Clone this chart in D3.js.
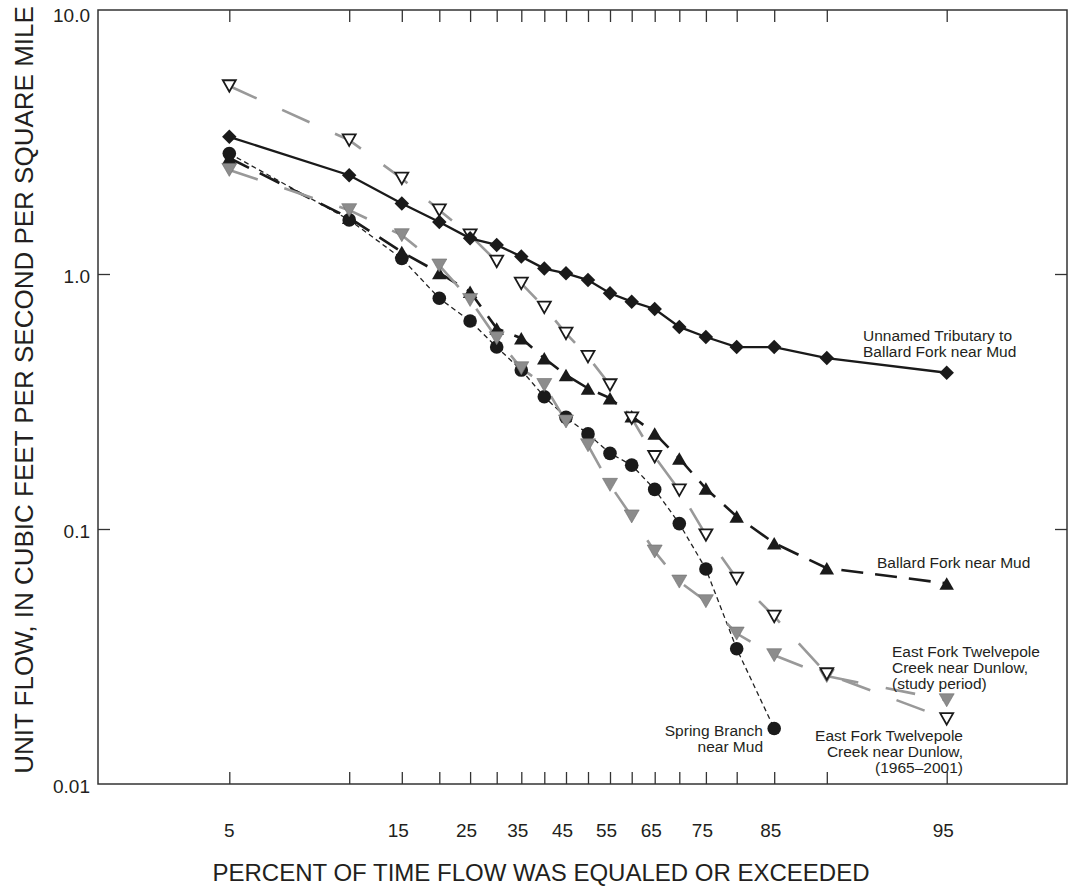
<!DOCTYPE html>
<html><head><meta charset="utf-8">
<script src="https://cdn.jsdelivr.net/npm/d3@7"></script>
<style>
body{margin:0;background:#fff}
svg{display:block}
text{font-family:"Liberation Sans", Arial, Helvetica, sans-serif; fill:#231f20}
</style>
</head><body>
<svg id="chart" width="1069" height="894"></svg>
<script>
// ---------------- DATA ----------------
const percent = [5,10,15,20,25,30,35,40,45,50,55,60,65,70,75,80,85,90,95];
const xTickValues = [5,10,15,20,25,30,35,40,45,50,55,60,65,70,75,80,85,90,95];
const xTickLabels = ["5","","15","","25","","35","","45","","55","","65","","75","","85","","95"];
const yTickValues = [0.01,0.1,1,10];
const yTickLabels = ["0.01","0.1","1.0","10.0"];

const unnamedTributary = [3.45,2.44,1.89,1.60,1.38,1.30,1.17,1.05,1.006,0.947,0.840,0.779,0.729,0.620,0.566,0.517,0.517,0.468,0.410];
const ballardFork      = [2.85,1.66,1.22,1.01,0.852,0.612,0.560,0.467,0.402,0.356,0.326,0.277,0.237,0.189,0.144,0.112,0.088,0.0702,0.0612];
const springBranch     = [2.97,1.63,1.15,0.803,0.654,0.517,0.420,0.330,0.274,0.236,0.198,0.178,0.143,0.105,0.0697,0.0339,0.0165];
const eastForkStudy    = [2.56,1.78,1.42,1.08,0.791,0.560,0.427,0.367,0.264,0.213,0.149,0.112,0.0816,0.0622,0.0521,0.0389,0.0320,0.0265,0.0213];
const eastFork1965     = [5.46,3.35,2.37,1.78,1.42,1.12,0.919,0.740,0.585,0.474,0.367,0.272,0.192,0.142,0.0947,0.064,0.0454,0.0270,0.0180];

// ---------------- LAYOUT ----------------
const L = 98, R = 1067, T = 10, B = 784;
const xc = 588;
// half-distances of the probability ticks from the 50-percent line (5/95, 10/90, ... 45/55, 50)
const probOffsets = [358.7, 238.8, 186.2, 148.7, 117.9, 91.3, 66.7, 43.7, 22.0, 0];
const xRange = xTickValues.map(p => p <= 50 ? xc - probOffsets[(p - 5) / 5] : xc + probOffsets[(95 - p) / 5]);

const x = d3.scaleLinear().domain(xTickValues).range(xRange);
const y = d3.scaleLog().domain([0.01, 10]).range([B, 19]);

const svg = d3.select("#chart");

// frame
svg.append("rect").attr("x", L).attr("y", T).attr("width", R - L).attr("height", B - T)
  .attr("fill", "none").attr("stroke", "#333").attr("stroke-width", 1.5);

// axes ticks (inward)
const tickLen = 12;
const axB = svg.append("g").attr("transform", `translate(0,${B})`)
  .call(d3.axisBottom(x).tickValues(xTickValues).tickSizeInner(-tickLen).tickSizeOuter(0).tickFormat(""));
const axT = svg.append("g").attr("transform", `translate(0,${T})`)
  .call(d3.axisTop(x).tickValues(xTickValues).tickSizeInner(-tickLen).tickSizeOuter(0).tickFormat(""));
const axL = svg.append("g").attr("transform", `translate(${L},0)`)
  .call(d3.axisLeft(y).tickValues([0.1, 1]).tickSizeInner(-tickLen).tickSizeOuter(0).tickFormat(""));
const axR = svg.append("g").attr("transform", `translate(${R},0)`)
  .call(d3.axisRight(y).tickValues([0.1, 1]).tickSizeInner(-tickLen).tickSizeOuter(0).tickFormat(""));
[axB, axT, axL, axR].forEach(g => {
  g.select(".domain").remove();
  g.selectAll(".tick line").attr("stroke", "#333").attr("stroke-width", 1.3);
});

// x tick labels
svg.append("g").selectAll("text").data(xTickValues.map((v, i) => ({v, t: xTickLabels[i]})).filter(d => d.t))
  .join("text")
  .attr("x", d => x(d.v) + (d.t.length > 1 ? -3.5 : 0))
  .attr("y", 837)
  .attr("text-anchor", "middle")
  .attr("font-size", 19)
  .text(d => d.t);

// y tick labels (the top one sits just under the frame top)
const topVal = yTickValues[yTickValues.length - 1];
svg.append("g").selectAll("text").data(yTickValues.map((v, i) => ({v, t: yTickLabels[i]})))
  .join("text")
  .attr("x", 90)
  .attr("y", d => (d.v === topVal ? T + 5 : y(d.v) + 2) + 6.8)
  .attr("text-anchor", "end")
  .attr("font-size", 19)
  .text(d => d.t);

// axis titles
svg.append("text").attr("x", 541).attr("y", 881).attr("text-anchor", "middle")
  .attr("font-size", 24).text("PERCENT OF TIME FLOW WAS EQUALED OR EXCEEDED");
svg.append("text").attr("transform", "translate(32.5,390) rotate(-90)").attr("text-anchor", "middle")
  .attr("font-size", 26).text("UNIT FLOW, IN CUBIC FEET PER SECOND PER SQUARE MILE");

// ---------------- SERIES ----------------
const gray = "#999999";
const series = [
  {name: "spring", values: springBranch, stroke: "#222", width: 1.3, dash: "5,3.5", marker: "circle", fill: "#1a1a1a"},
  {name: "ballard", values: ballardFork, stroke: "#1a1a1a", width: 2.6, dash: "22,12", marker: "up", fill: "#1a1a1a"},
  {name: "study", values: eastForkStudy, stroke: gray, width: 2.6, dash: "30,28", marker: "downGray", fill: "#8c8c8c"},
  {name: "e1965", values: eastFork1965, stroke: gray, width: 2.6, dash: "30,28", marker: "downOpen", fill: "#fff"},
  {name: "unnamed", values: unnamedTributary, stroke: "#1a1a1a", width: 2.3, dash: null, marker: "diamond", fill: "#1a1a1a"}
];

const line = d3.line().x(d => x(d.p)).y(d => y(d.v));
series.forEach(s => {
  s.pts = s.values.map((v, i) => ({p: percent[i], v}));
  const path = svg.append("path").datum(s.pts).attr("d", line)
    .attr("fill", "none").attr("stroke", s.stroke).attr("stroke-width", s.width);
  if (s.dash) path.attr("stroke-dasharray", s.dash);
});

function triPath(w, h, up) {
  return up ? `M0,${-h/2}L${w/2},${h/2}L${-w/2},${h/2}Z` : `M0,${h/2}L${w/2},${-h/2}L${-w/2},${-h/2}Z`;
}
const diamond = d3.symbol().type(d3.symbolSquare).size(105)();

series.forEach(s => {
  const g = svg.append("g");
  const sel = g.selectAll("path").data(s.pts).join("path")
    .attr("transform", d => `translate(${x(d.p)},${y(d.v)})`);
  if (s.marker === "circle") {
    sel.attr("d", d3.symbol().type(d3.symbolCircle).size(145)()).attr("fill", s.fill);
  } else if (s.marker === "up") {
    sel.attr("d", triPath(14.5, 12.5, true)).attr("fill", s.fill);
  } else if (s.marker === "downGray") {
    sel.attr("d", triPath(15, 13, false)).attr("fill", s.fill).attr("stroke", "#6e6e6e").attr("stroke-width", 0.6);
  } else if (s.marker === "downOpen") {
    sel.attr("d", triPath(13, 11.5, false)).attr("fill", "#fff").attr("stroke", "#1a1a1a").attr("stroke-width", 1.8);
  } else if (s.marker === "diamond") {
    sel.attr("d", diamond).attr("fill", s.fill)
      .attr("transform", d => `translate(${x(d.p)},${y(d.v)}) rotate(45)`);
  }
});

// ---------------- ANNOTATIONS ----------------
const notes = [
  {x: 863, y: 335, anchor: "start", lines: ["Unnamed Tributary to", "Ballard Fork near Mud"]},
  {x: 877, y: 562, anchor: "start", lines: ["Ballard Fork near Mud"]},
  {x: 892, y: 651, anchor: "start", lines: ["East Fork Twelvepole", "Creek near Dunlow,", "(study period)"]},
  {x: 763, y: 730, anchor: "end", lines: ["Spring Branch", "near Mud"]},
  {x: 963, y: 735, anchor: "end", lines: ["East Fork Twelvepole", "Creek near Dunlow,", "(1965\u20132001)"]}
];
notes.forEach(n => {
  const t = svg.append("text").attr("text-anchor", n.anchor).attr("font-size", 15.5);
  n.lines.forEach((ln, i) => {
    t.append("tspan").attr("x", n.x).attr("y", n.y + 5.5 + i * 16).text(ln);
  });
});
</script>
</body></html>
